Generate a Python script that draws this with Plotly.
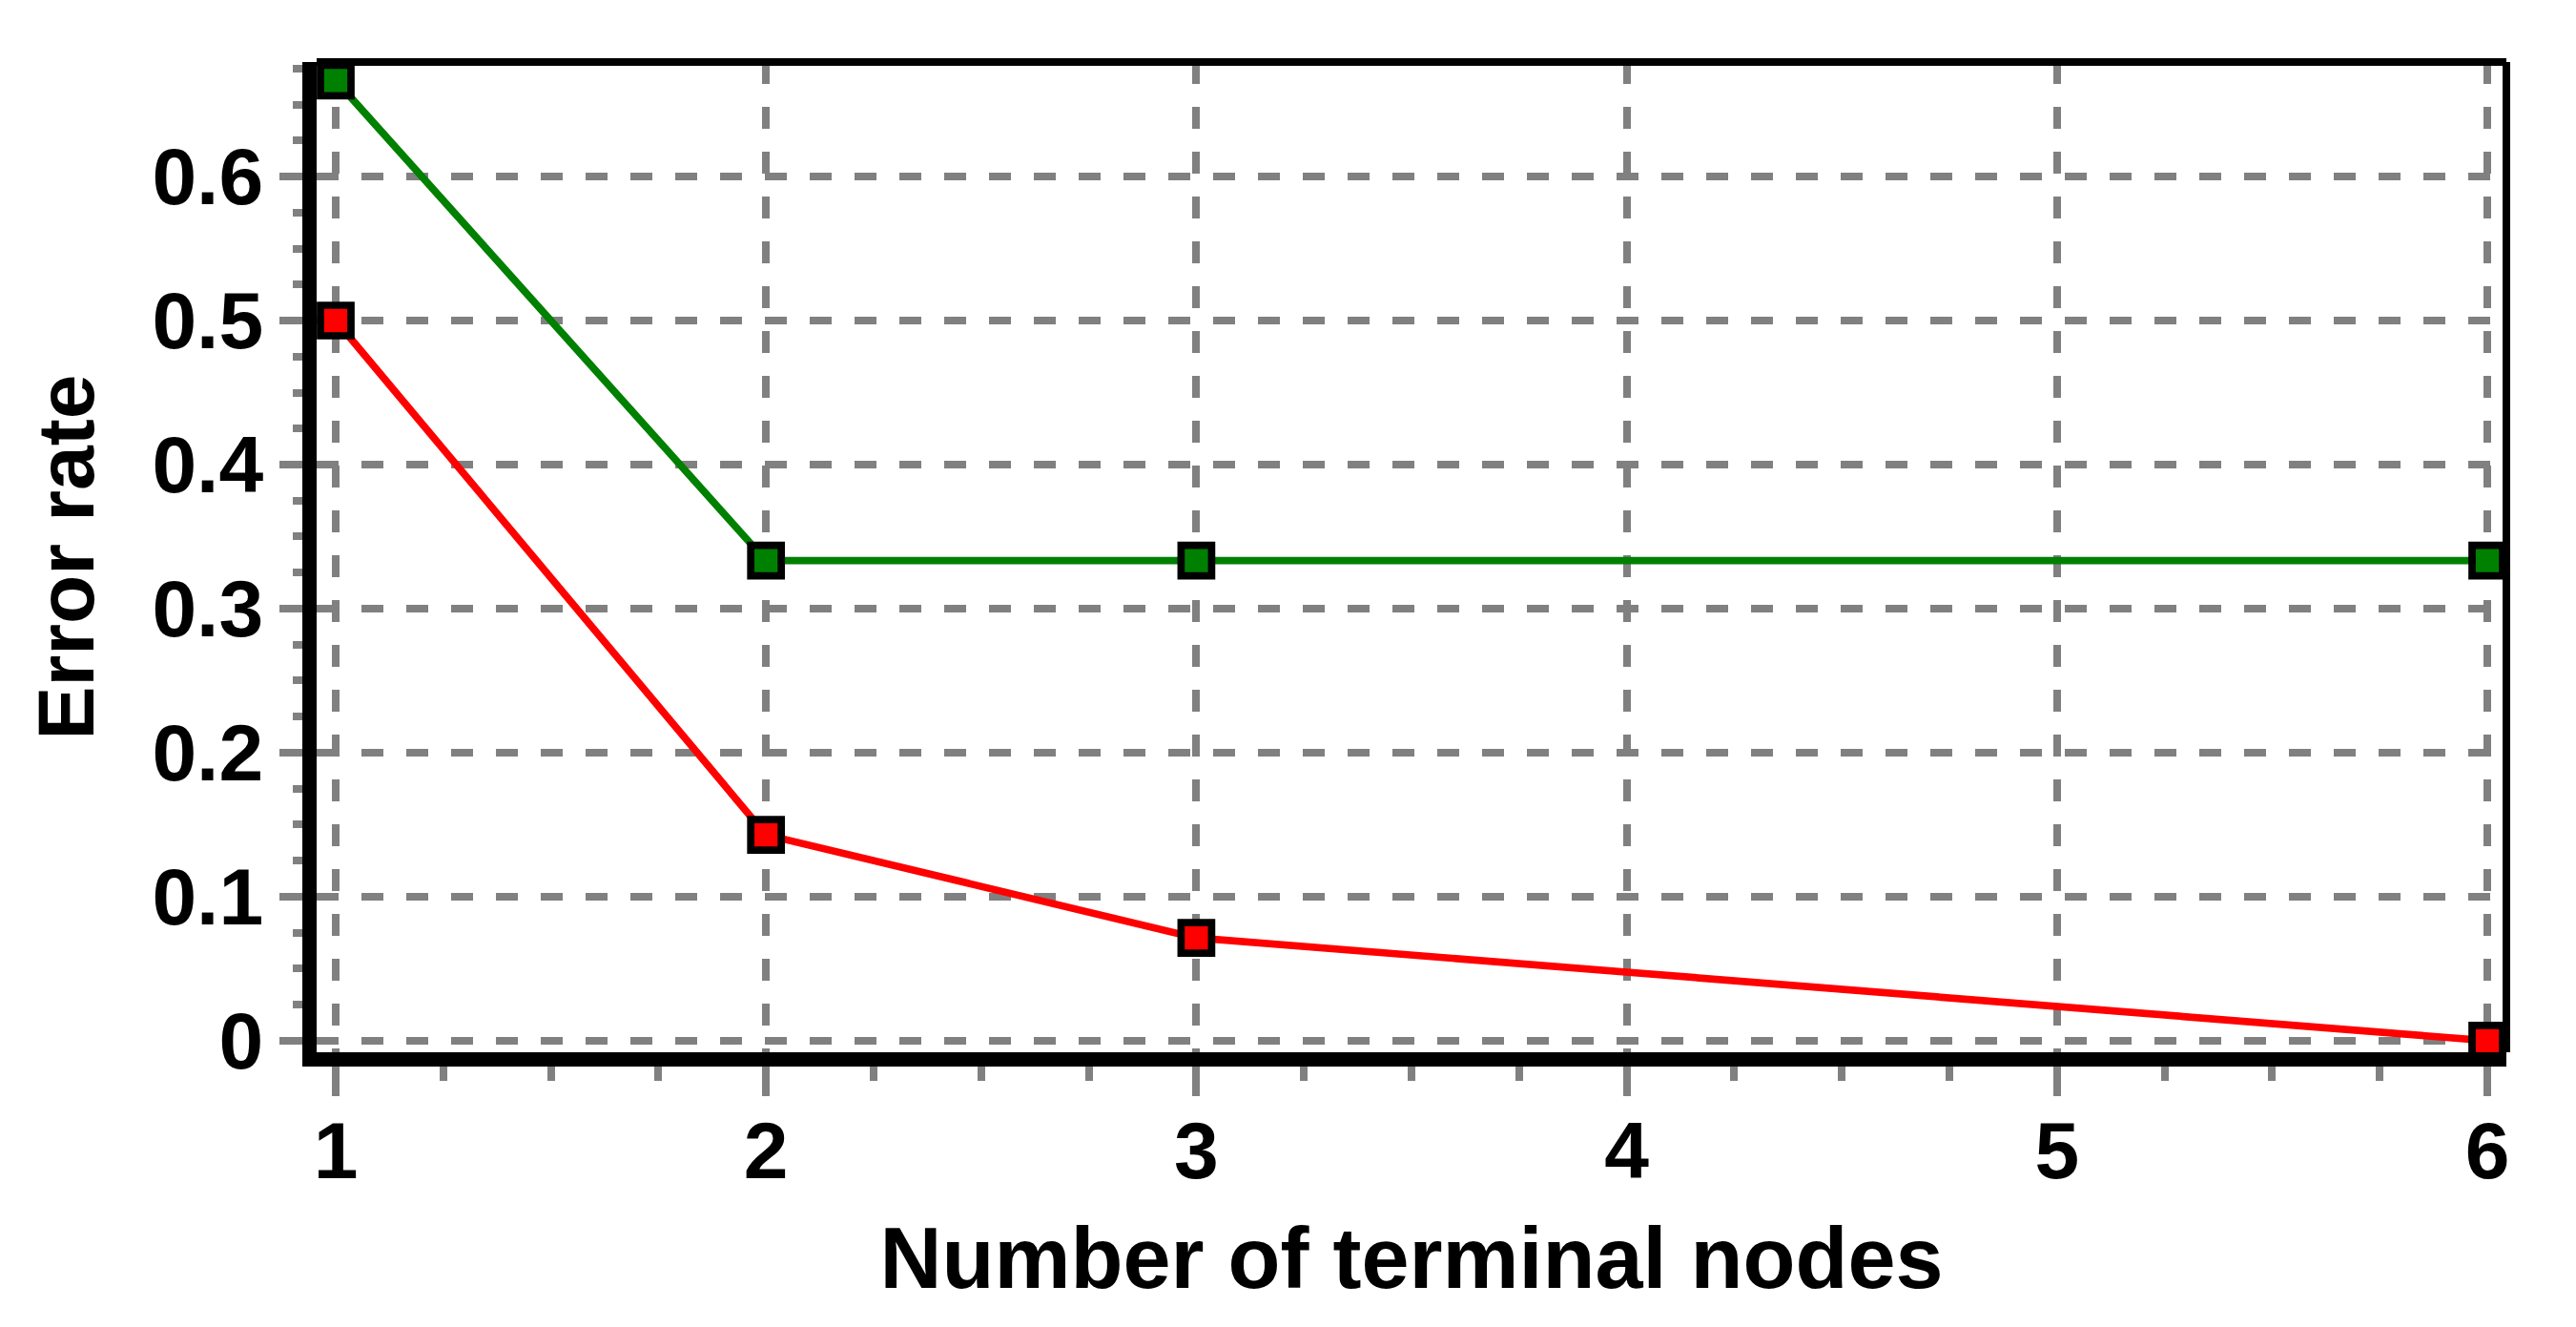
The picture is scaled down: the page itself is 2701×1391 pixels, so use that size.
import plotly.graph_objects as go

# Data
nodes = [1, 2, 3, 6]
green_err = [0.6667, 0.3333, 0.3333, 0.3333]
red_err = [0.5, 0.1429, 0.0714, 0.0]
x_ticks = [1, 2, 3, 4, 5, 6]
y_ticks = [0, 0.1, 0.2, 0.3, 0.4, 0.5, 0.6]
y_ticktext = ["0", "0.1", "0.2", "0.3", "0.4", "0.5", "0.6"]
x_title = "Number of terminal nodes"
y_title = "Error rate"

W, H = 2701, 1391
GRAY = "#808080"
FONT = "Liberation Sans, Arial, sans-serif"
LW = 7.7

fig = go.Figure()
for ys, col in [(green_err, "#008000"), (red_err, "#FF0000")]:
    fig.add_trace(go.Scatter(
        x=nodes, y=ys, mode="lines+markers",
        line=dict(color=col, width=LW),
        marker=dict(symbol="square", size=32, color=col,
                    line=dict(color="black", width=LW)),
        cliponaxis=False, showlegend=False,
    ))

axis_common = dict(
    showgrid=True, gridcolor=GRAY, gridwidth=LW, griddash="23px,24px",
    zeroline=False, showline=True, linecolor="black", linewidth=15,
    ticks="outside", tickcolor=GRAY, tickwidth=LW,
    tickfont=dict(family=FONT, size=84, color="black", weight="bold"),
)

fig.update_layout(
    width=W, height=H,
    paper_bgcolor="white", plot_bgcolor="white",
    margin=dict(l=324, r=81, t=57, b=296, autoexpand=False),
    xaxis=dict(
        range=[0.9557, 6.0443], tickvals=x_ticks, ticklen=31,
        ticklabelstandoff=-15,
        minor=dict(dtick=0.25, tick0=1, ticks="outside", ticklen=15,
                   tickcolor=GRAY, tickwidth=LW, showgrid=False),
        title=dict(text=x_title, standoff=42,
                   font=dict(family=FONT, size=90, color="black", weight="bold")),
        **axis_common,
    ),
    yaxis=dict(
        range=[-0.008, 0.6795], tickvals=y_ticks, ticktext=y_ticktext, ticklen=24,
        minor=dict(dtick=0.025, tick0=0, ticks="outside", ticklen=10,
                   tickcolor=GRAY, tickwidth=LW, showgrid=False),
        title=dict(text=y_title, standoff=40,
                   font=dict(family=FONT, size=84, color="black", weight="bold")),
        **axis_common,
    ),
    shapes=[
        dict(type="line", xref="paper", yref="paper", x0=0, x1=1, y0=1, y1=1,
             line=dict(color="black", width=8), layer="above"),
        dict(type="line", xref="paper", yref="paper", x0=1, x1=1, y0=0, y1=1,
             line=dict(color="black", width=8), layer="above"),
    ],
)

fig.write_html("out.html")
